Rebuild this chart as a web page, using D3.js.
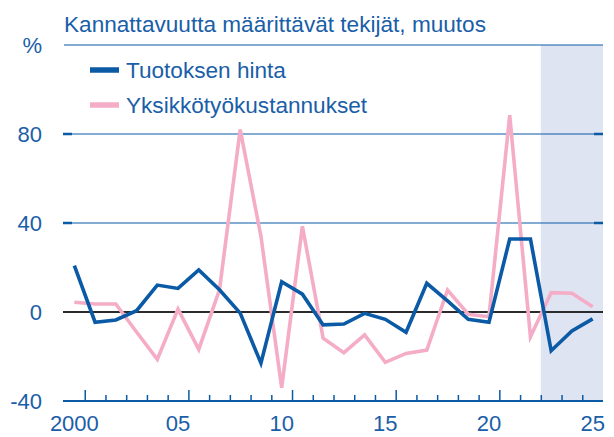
<!DOCTYPE html>
<html><head><meta charset="utf-8">
<script src="https://cdn.jsdelivr.net/npm/d3@7"></script>
<style>html,body{margin:0;padding:0;background:#fff}svg{display:block}text{font-family:"Liberation Sans",Arial,sans-serif}</style>
</head><body>
<svg id="c" width="614" height="437"></svg>
<script>
const years = d3.range(2000, 2026);
const outputPrice = [20.8,-4.6,-3.6,0.6,12.1,10.6,18.9,10,-0.5,-23,13.6,8,-5.8,-5.4,-0.6,-3.3,-9.1,12.9,5,-3.3,-4.6,32.8,32.8,-17.4,-8.5,-3.1];
const unitLabourCost = [4.4,3.6,3.6,-9,-21.3,1.3,-16.8,10,82,34,-34,38.5,-11.8,-18.3,-10.3,-22.6,-18.6,-17.1,9.9,-1,-2.1,88.5,-11.1,8.7,8.4,2.4];
const yTicks = [-40, 0, 40, 80];
const xLabelYears = [2000, 2005, 2010, 2015, 2020, 2025];
const xLabels = ["2000", "05", "10", "15", "20", "25"];
const forecastStart = 2022.5;
const seriesNames = ["Tuotoksen hinta", "Yksikkötyökustannukset"];
const title = "Kannattavuutta määrittävät tekijät, muutos";

const BLUE = "#0b5aa6", PINK = "#f5adc7", TXT = "#1a5ea8";
const svg = d3.select("#c");
const x = d3.scaleLinear().domain([1999.5, 2025.5]).range([64, 603]);
const y = d3.scaleLinear().domain([-40, 120]).range([401, 45]);

// forecast shading
svg.append("rect").attr("x", x(forecastStart)).attr("y", y(120))
  .attr("width", x(2025.5) - x(forecastStart)).attr("height", y(-40) - y(120))
  .attr("fill", "#dfe4f2");

// gridlines
[40, 80, 120].forEach(v => {
  svg.append("line").attr("x1", x.range()[0]).attr("x2", x.range()[1])
    .attr("y1", y(v)).attr("y2", y(v)).attr("stroke", BLUE).attr("stroke-width", 1.2);
});
// tick stubs left/right
[40, 80].forEach(v => {
  svg.append("line").attr("x1", 63).attr("x2", 72).attr("y1", y(v)).attr("y2", y(v)).attr("stroke", BLUE).attr("stroke-width", 2.5);
  svg.append("line").attr("x1", 594).attr("x2", 603).attr("y1", y(v)).attr("y2", y(v)).attr("stroke", BLUE).attr("stroke-width", 2.5);
});
// zero line
svg.append("line").attr("x1", 63).attr("x2", 603).attr("y1", y(0)).attr("y2", y(0)).attr("stroke", "#2b2b2b").attr("stroke-width", 2.2);

// x axis
const xAxis = d3.axisTop(x)
  .tickValues(d3.range(2000.5, 2025.5, 1))
  .tickSize(6).tickFormat("");
const gx = svg.append("g").attr("transform", `translate(0,${y(-40)})`).call(xAxis);
gx.select(".domain").remove();
gx.selectAll(".tick line").attr("stroke", BLUE).attr("stroke-width", 1.5)
  .attr("y2", d => (Math.round(d - 0.5) % 5 === 0) ? -11 : -6);
svg.append("line").attr("x1", 63).attr("x2", 603).attr("y1", y(-40)).attr("y2", y(-40)).attr("stroke", BLUE).attr("stroke-width", 2);

svg.selectAll(".xl").data(xLabelYears).join("text").attr("class", "xl")
  .attr("x", d => x(d)).attr("y", 431).attr("text-anchor", "middle")
  .attr("font-size", 22).attr("fill", TXT).text((d, i) => xLabels[i]);

// y labels
svg.selectAll(".yl").data(yTicks).join("text").attr("class", "yl")
  .attr("x", 42).attr("y", d => y(d) + 8).attr("text-anchor", "end")
  .attr("font-size", 22).attr("fill", TXT).text(d => d);
svg.append("text").attr("x", 42).attr("y", 53).attr("text-anchor", "end")
  .attr("font-size", 22).attr("fill", TXT).text("%");

// title
svg.append("text").attr("x", 64).attr("y", 31.5).attr("font-size", 22.6).attr("fill", TXT).text(title);

// lines
const line = d3.line().x((d, i) => x(years[i])).y(d => y(d));
svg.append("path").datum(unitLabourCost).attr("d", line).attr("fill", "none")
  .attr("stroke", PINK).attr("stroke-width", 3.6).attr("stroke-linejoin", "miter");
svg.append("path").datum(outputPrice).attr("d", line).attr("fill", "none")
  .attr("stroke", BLUE).attr("stroke-width", 3.6).attr("stroke-linejoin", "miter");

// legend
const leg = [{n: seriesNames[0], c: BLUE, yy: 70}, {n: seriesNames[1], c: PINK, yy: 105}];
leg.forEach(l => {
  svg.append("line").attr("x1", 90).attr("x2", 119).attr("y1", l.yy).attr("y2", l.yy)
    .attr("stroke", l.c).attr("stroke-width", 5.5);
  svg.append("text").attr("x", 126).attr("y", l.yy + 7.5).attr("font-size", 22.6).attr("fill", TXT).text(l.n);
});
</script>
</body></html>
